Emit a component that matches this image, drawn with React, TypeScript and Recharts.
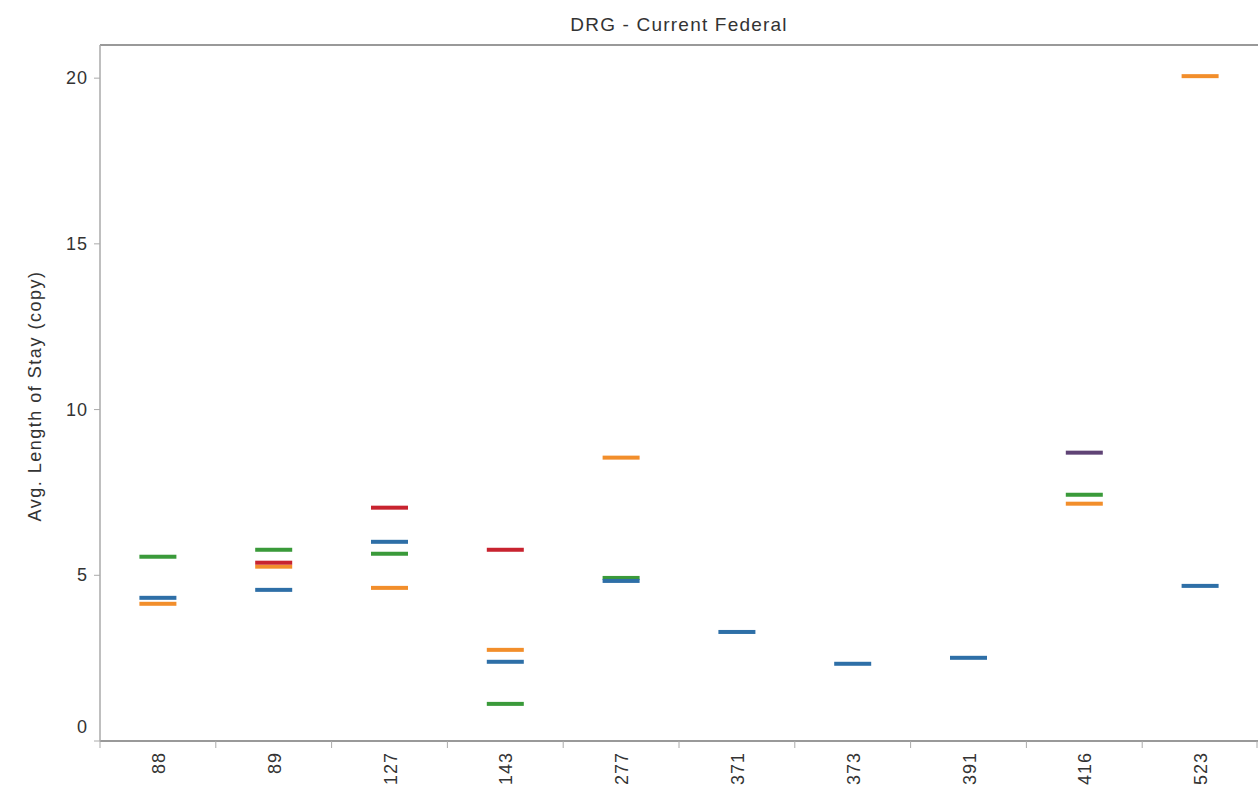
import React from "react";
import { ComposedChart, Line, XAxis, YAxis, ReferenceLine } from "recharts";

const categories = ["88", "89", "127", "143", "277", "371", "373", "391", "416", "523"];
const blueValues = [4.32, 4.56, 6.01, 2.39, 4.83, 3.29, 2.33, 2.51, null, 4.68];
const orangeValues = [4.14, 5.26, 4.62, 2.75, 8.55, null, null, null, 7.16, 20.06];
const greenValues = [5.56, 5.77, 5.65, 1.12, 4.92, null, null, null, 7.43, null];
const redValues = [null, 5.38, 7.04, 5.77, null, null, null, null, null, null];
const purpleValues = [null, null, null, null, null, null, null, null, 8.7, null];
const yTicks = [0, 5, 10, 15, 20];

const data = categories.map((cat, i) => ({
  cat,
  blue: blueValues[i],
  orange: orangeValues[i],
  green: greenValues[i],
  red: redValues[i],
  purple: purpleValues[i],
}));

const W = 1259;
const H = 786;
const LEFT = 100;
const PLOT_W = W - LEFT - 1;
const BAND = PLOT_W / categories.length;
const FONT = "'Liberation Sans', Arial, sans-serif";

const makeDot = (color: string) => (props: any) => {
  const { cx, cy, index } = props;
  if (cx == null || cy == null || isNaN(cx) || isNaN(cy)) return <g key={`e-${color}-${index}`} />;
  return <rect key={`d-${color}-${index}`} x={cx - 18.5} y={cy - 2} width={37} height={4} fill={color} />;
};

const XTick = (props: any) => {
  const { x, y, payload, index } = props;
  const left = x - BAND / 2;
  return (
    <g>
      <line x1={left} y1={y - 8} x2={left} y2={y - 1} stroke="#aaa" strokeWidth={1} />
      {index === categories.length - 1 && (
        <line x1={x + BAND / 2 - 1} y1={y - 8} x2={x + BAND / 2 - 1} y2={y - 1} stroke="#aaa" strokeWidth={1} />
      )}
      <text
        x={0}
        y={0}
        transform={`translate(${x + 7},${y + 3}) rotate(-90)`}
        textAnchor="end"
        fontSize={18}
        letterSpacing={1}
        fill="#333"
        fontFamily={FONT}
      >
        {payload.value}
      </text>
    </g>
  );
};

const YTick = (props: any) => {
  const { x, y, payload } = props;
  const dy = payload.value === 0 ? -14 : 0;
  return (
    <text x={x - 4} y={y + dy + 6} textAnchor="end" fontSize={18} letterSpacing={1} fill="#333" fontFamily={FONT}>
      {payload.value}
    </text>
  );
};

export default function App() {
  return (
    <div style={{ position: "absolute", left: 0, top: 0, width: W, height: H, background: "#fff" }}>
      <div
        style={{
          position: "absolute",
          left: LEFT,
          width: PLOT_W,
          top: 14,
          textAlign: "center",
          fontFamily: FONT,
          fontSize: 19,
          letterSpacing: 1.2,
          color: "#333",
        }}
      >
        DRG - Current Federal
      </div>
      <div
        style={{
          position: "absolute",
          left: 35,
          top: 396,
          transform: "translate(-50%, -50%) rotate(-90deg)",
          whiteSpace: "nowrap",
          fontFamily: FONT,
          fontSize: 18,
          letterSpacing: 1.5,
          color: "#333",
        }}
      >
        Avg. Length of Stay (copy)
      </div>
      <ComposedChart
        width={W}
        height={H}
        data={data}
        margin={{ top: 45, right: 1, bottom: 0, left: 0 }}
        style={{ position: "absolute", left: 0, top: 0 }}
      >
        <XAxis
          dataKey="cat"
          type="category"
          scale="band"
          height={45}
          interval={0}
          axisLine={{ stroke: "#999", strokeWidth: 2 }}
          tickLine={false}
          tick={<XTick />}
        />
        <YAxis
          type="number"
          domain={[0, 21]}
          ticks={yTicks}
          width={100}
          allowDataOverflow
          axisLine={{ stroke: "#aaa", strokeWidth: 1.5 }}
          tickLine={{ stroke: "#aaa" }}
          tickSize={6}
          tick={<YTick />}
        />
        <ReferenceLine y={21} stroke="#999" strokeWidth={2} />
        <Line dataKey="orange" stroke="none" isAnimationActive={false} activeDot={false} dot={makeDot("#f28e2b")} />
        <Line dataKey="green" stroke="none" isAnimationActive={false} activeDot={false} dot={makeDot("#3a9a3a")} />
        <Line dataKey="blue" stroke="none" isAnimationActive={false} activeDot={false} dot={makeDot("#2e6fa7")} />
        <Line dataKey="red" stroke="none" isAnimationActive={false} activeDot={false} dot={makeDot("#c8232f")} />
        <Line dataKey="purple" stroke="none" isAnimationActive={false} activeDot={false} dot={makeDot("#5f4375")} />
      </ComposedChart>
    </div>
  );
}
